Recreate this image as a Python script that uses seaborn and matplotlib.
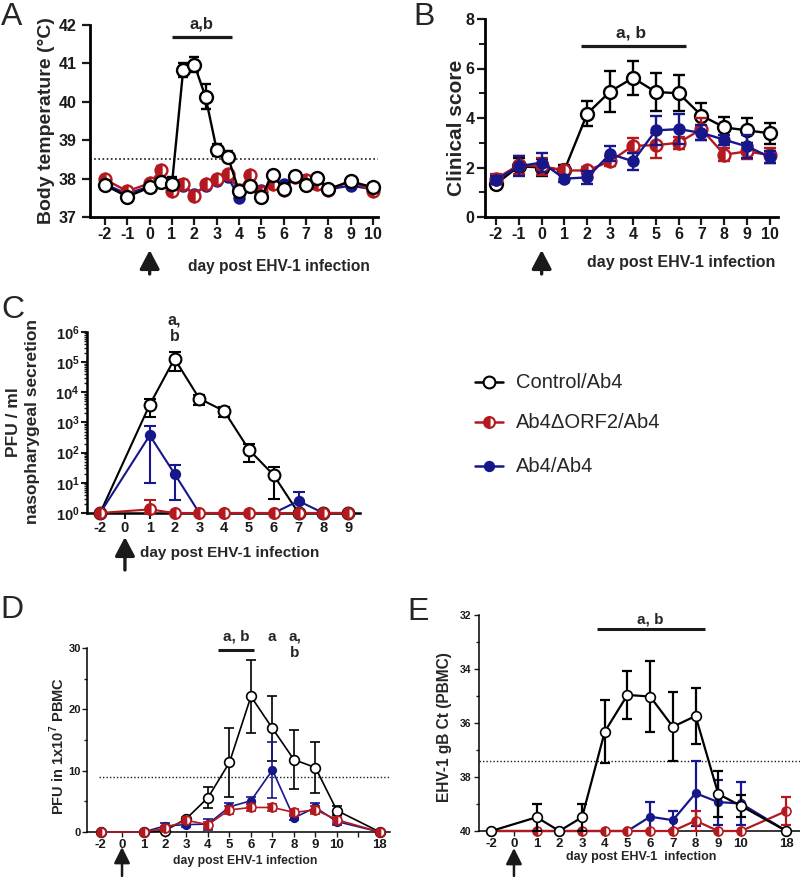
import numpy as np
import matplotlib
matplotlib.use("Agg")
import matplotlib.pyplot as plt
from matplotlib.lines import Line2D
from matplotlib.ticker import FixedLocator, LogLocator, NullFormatter
import seaborn as sns

sns.set_theme(style="ticks")
plt.rcParams['font.family'] = ['Liberation Sans', 'DejaVu Sans']
plt.rcParams['mathtext.fontset'] = 'custom'
plt.rcParams['mathtext.rm'] = 'Liberation Sans'
plt.rcParams['mathtext.bf'] = 'Liberation Sans:bold'
plt.rcParams['axes.edgecolor'] = 'black'
plt.rcParams['axes.unicode_minus'] = False

# ---------------- DATA ----------------
GROUPS = ["Control/Ab4", "Ab4\u0394ORF2/Ab4", "Ab4/Ab4"]

# Panel A: body temperature
A_DAYS = [-2, -1, 0, 0.5, 1, 1.5, 2, 2.5, 3, 3.5, 4, 4.5, 5, 5.5, 6, 6.5, 7, 7.5, 8, 9, 10]
A_CTRL = [37.83, 37.53, 37.77, 37.92, 37.87, 40.83, 40.97, 40.13, 38.75, 38.57, 37.67,
          37.80, 37.53, 38.10, 37.73, 38.08, 37.83, 38.02, 37.73, 37.93, 37.77]
A_CTRL_ERR = [0.05, 0.05, 0.05, 0.05, 0.17, 0.18, 0.2, 0.33, 0.15, 0.15, 0.05,
              0.05, 0.1, 0.05, 0.06, 0.1, 0.05, 0.05, 0.06, 0.06, 0.05]
A_RED = [37.98, 37.67, 37.88, 38.22, 37.67, 37.87, 37.55, 37.85, 38.00, 38.12, 37.70,
         38.10, 37.65, 37.85, 37.70, 38.05, 37.97, 37.85, 37.70, 37.95, 37.67]
A_RED_ERR = [0.05, 0.05, 0.05, 0.12, 0.05, 0.1, 0.05, 0.05, 0.05, 0.05, 0.05,
             0.05, 0.05, 0.05, 0.05, 0.05, 0.05, 0.05, 0.05, 0.05, 0.05]
A_BLUE = [37.85, 37.60, 37.80, 37.90, 37.75, 37.80, 37.60, 37.80, 37.95, 38.05, 37.50,
          37.80, 37.70, 37.85, 37.87, 38.05, 37.90, 37.88, 37.72, 37.82, 37.72]
A_BLUE_ERR = [0.05] * 21
A_THRESHOLD = 38.5

# Panel B: clinical score
B_DAYS = [-2, -1, 0, 1, 2, 3, 4, 5, 6, 7, 8, 9, 10]
B_CTRL = [1.33, 2.05, 2.0, 1.9, 4.18, 5.07, 5.62, 5.05, 5.0, 4.1, 3.62, 3.5, 3.38]
B_CTRL_ERR = [0.15, 0.35, 0.35, 0.2, 0.5, 0.83, 0.7, 0.77, 0.72, 0.52, 0.42, 0.5, 0.42]
B_RED = [1.55, 2.1, 2.05, 1.88, 1.88, 2.25, 2.88, 2.9, 3.0, 3.55, 2.52, 2.65, 2.5]
B_RED_ERR = [0.2, 0.35, 0.35, 0.15, 0.15, 0.2, 0.3, 0.5, 0.25, 0.45, 0.25, 0.3, 0.3]
B_BLUE = [1.5, 2.05, 2.2, 1.55, 1.6, 2.55, 2.25, 3.5, 3.55, 3.4, 3.12, 2.85, 2.42]
B_BLUE_ERR = [0.15, 0.4, 0.4, 0.15, 0.25, 0.3, 0.35, 0.6, 0.6, 0.3, 0.2, 0.45, 0.25]

# Panel C: PFU / ml nasopharyngeal secretion (value, lower, upper)
C_TICKS = ["-2", "0", "1", "2", "3", "4", "5", "6", "7", "8", "9"]
C_DAYS = ["-2", "1", "2", "3", "4", "5", "6", "7", "8", "9"]
C_CTRL = [1, 3900, 1.3e5, 6200, 2400, 126, 18, 1, 1, 1]
C_CTRL_LO = [1, 1500, 5e4, 3700, 1500, 50, 3, 1, 1, 1]
C_CTRL_HI = [1, 6000, 2.2e5, 8000, 3300, 200, 33, 1, 1, 1]
C_BLUE = [1, 375, 20, 1, 1, 1, 1, 2.5, 1, 1]
C_BLUE_LO = [1, 10, 2.8, 1, 1, 1, 1, 1, 1, 1]
C_BLUE_HI = [1, 750, 38, 1, 1, 1, 1, 5, 1, 1]
C_RED = [1, 1.32, 1, 1, 1, 1, 1, 1, 1, 1]
C_RED_LO = [1, 1, 1, 1, 1, 1, 1, 1, 1, 1]
C_RED_HI = [1, 2.6, 1, 1, 1, 1, 1, 1, 1, 1]

# Panels D/E share the day axis
DE_TICKS = ["-2", "0", "1", "2", "3", "4", "5", "6", "7", "8", "9", "10", "", "18"]
DE_DAYS = ["-2", "1", "2", "3", "4", "5", "6", "7", "8", "9", "10", "18"]

# Panel D: PFU in 1x10^7 PBMC
D_CTRL = [0, 0, 0.2, 2.2, 5.6, 11.35, 22.1, 16.9, 11.8, 10.5, 3.5, 0]
D_CTRL_ERR = [0, 0, 0, 0.3, 1.7, 5.6, 5.9, 5.3, 4.75, 4.1, 0.7, 0]
D_BLUE = [0, 0, 1.0, 1.2, 1.3, 4.1, 5.1, 10.1, 2.3, 4.0, 1.7, 0]
D_BLUE_ERR = [0, 0, 0.5, 0.4, 0.9, 0.7, 0.6, 4.5, 0.4, 0.8, 0.5, 0]
D_RED = [0, 0, 0.6, 1.9, 1.2, 3.6, 4.0, 4.0, 3.2, 3.6, 2.0, 0]
D_RED_ERR = [0, 0, 0.4, 0.5, 0.5, 0.6, 0.6, 0.6, 0.6, 0.7, 0.5, 0]
D_THRESHOLD = 9

# Panel E: EHV-1 gB Ct (PBMC)
E_CTRL = [40, 39.49, 40, 39.49, 36.32, 34.96, 35.02, 36.14, 35.74, 38.63, 39.07, 40]
E_CTRL_ERR = [0, 0.5, 0, 0.5, 1.17, 0.88, 1.33, 1.27, 1.04, 0.84, 0.4, 0]
E_BLUE = [40, 40, 40, 40, 40, 40, 39.47, 39.6, 38.6, 38.93, 38.98, 40]
E_BLUE_ERR = [0, 0, 0, 0, 0, 0, 0.53, 0.35, 1.2, 0.83, 0.8, 0]
E_RED = [40, 40, 40, 40, 40, 40, 40, 40, 39.62, 40, 40, 39.26]
E_RED_ERR = [0, 0, 0, 0, 0, 0, 0, 0, 0.37, 0, 0, 0.53]
E_THRESHOLD = 37.4

# ---------------- STYLE ----------------
BLACK = "#000000"
RED = "#B3191E"
BLUE = "#17178C"
W, H = 800, 877

fig = plt.figure(figsize=(8, 8.77), dpi=100)


def add_ax(l, t, r, b):
    ax = fig.add_axes([l / W, 1 - b / H, (r - l) / W, (b - t) / H])
    ax.set_facecolor("none")
    ax.grid(False)
    for s in ("top", "right"):
        ax.spines[s].set_visible(False)
    return ax, (l, t, r, b)


def style_for(group, ms, mew):
    if group == 0:
        return dict(color=BLACK, marker="o", markersize=ms, markerfacecolor="white",
                    markeredgecolor=BLACK, markeredgewidth=mew)
    if group == 1:
        return dict(color=RED, marker="o", markersize=ms * 0.92, markerfacecolor=RED,
                    markerfacecoloralt="white", fillstyle="left",
                    markeredgecolor=RED, markeredgewidth=mew)
    return dict(color=BLUE, marker="o", markersize=ms * 0.78, markerfacecolor=BLUE,
                markeredgecolor=BLUE, markeredgewidth=mew)


def series(ax, x, y, lo_err, hi_err, group, ms, mew, lw, cap, z):
    x = np.asarray(x, float)
    y = np.asarray(y, float)
    lo_err = np.asarray(lo_err, float)
    hi_err = np.asarray(hi_err, float)
    st = style_for(group, ms, mew)
    m = (lo_err > 0) | (hi_err > 0)
    if m.any():
        ax.errorbar(x[m], y[m], yerr=[lo_err[m], hi_err[m]], fmt="none", ecolor=st["color"],
                    elinewidth=lw, capsize=cap, capthick=lw, zorder=z)
    sns.lineplot(x=x, y=y, ax=ax, sort=False, errorbar=None, linewidth=lw,
                 clip_on=False, zorder=z + 0.5, **st)


def bold_ticks(ax):
    for lab in ax.get_xticklabels() + ax.get_yticklabels():
        lab.set_fontweight("bold")


def arrow(ax, box, x, ytip, ytail, lw=2.4, hw=0.5, hl=0.95):
    l, t, r, b = box
    h = b - t
    ax.annotate("", xy=(x, (b - ytip) / h), xycoords=("data", "axes fraction"),
                xytext=(x, (b - ytail) / h), textcoords=("data", "axes fraction"),
                arrowprops=dict(arrowstyle=f"-|>,head_width={hw},head_length={hl}",
                                lw=lw, color="k", shrinkA=0, shrinkB=0),
                annotation_clip=False)


def ftext(px, py, s, **kw):
    fig.text(px / W, 1 - py / H, s, **kw)


# ---------------- PANEL A ----------------
axA, boxA = add_ax(90, 25, 378, 217)
for g, (yy, ee) in [(2, (A_BLUE, A_BLUE_ERR)), (1, (A_RED, A_RED_ERR)), (0, (A_CTRL, A_CTRL_ERR))]:
    series(axA, A_DAYS, yy, ee, ee, g, 9.3, 1.7, 1.7, 3.5, 3 + (2 - g))
axA.axhline(A_THRESHOLD, ls=(0, (1, 1.5)), color="k", lw=1.2, zorder=1)
axA.set_xlim(-2.67, 10.22)
axA.set_ylim(37, 42)
axA.set_xticks(range(-2, 11))
axA.set_yticks(range(37, 43))
axA.tick_params(width=1.6, length=5.5, labelsize=11.5, pad=2, colors="k")
axA.tick_params(axis="y", pad=4)
for s in ("left", "bottom"):
    axA.spines[s].set_linewidth(2.0)
bold_ticks(axA)
axA.set_xlabel("")
axA.set_ylabel("")
axA.plot([1.0, 3.69], [41.7, 41.7], color="k", lw=2.3, clip_on=False, solid_capstyle="butt")
axA.text(2.3, 41.9, "a,b", ha="center", va="baseline", fontsize=12, fontweight="bold")
arrow(axA, boxA, 0, 250, 274)
ftext(188, 267, "day post EHV-1 infection", ha="left", va="center", fontsize=11.2, fontweight="bold")
ftext(47, 121, "Body temperature (\u00b0C)", rotation=90, ha="center", va="center",
      fontsize=14, fontweight="bold")
ftext(1, 25, "A", fontsize=23, ha="left", va="baseline")

# ---------------- PANEL B ----------------
axB, boxB = add_ax(485, 19, 778, 217)
for g, (yy, ee) in [(0, (B_CTRL, B_CTRL_ERR)), (1, (B_RED, B_RED_ERR)), (2, (B_BLUE, B_BLUE_ERR))]:
    series(axB, B_DAYS, yy, ee, ee, g, 9.3, 1.7, 1.7, 4.3, 3 + g)
axB.set_xlim(-2.48, 10.35)
axB.set_ylim(0, 8)
axB.set_xticks(range(-2, 11))
axB.set_yticks([0, 2, 4, 6, 8])
axB.yaxis.set_minor_locator(FixedLocator([1, 3, 5, 7]))
axB.tick_params(width=1.6, length=5.5, labelsize=11.5, pad=2, colors="k")
axB.tick_params(axis="y", which="minor", width=1.4, length=4, colors="k")
for s in ("left", "bottom"):
    axB.spines[s].set_linewidth(2.0)
bold_ticks(axB)
axB.set_xlabel("")
axB.set_ylabel("")
axB.plot([1.72, 6.32], [6.91, 6.91], color="k", lw=2.3, clip_on=False, solid_capstyle="butt")
axB.text(3.9, 7.27, "a, b", ha="center", va="baseline", fontsize=12.5, fontweight="bold")
arrow(axB, boxB, 0, 250, 274)
ftext(587, 263, "day post EHV-1 infection", ha="left", va="center", fontsize=11.5, fontweight="bold")
ftext(457, 128, "Clinical score", rotation=90, ha="center", va="center",
      fontsize=15, fontweight="bold")
ftext(413, 25, "B", fontsize=23, ha="left", va="baseline")

# ---------------- PANEL C ----------------
axC, boxC = add_ax(87, 332, 360, 513)
axC.set_yscale("log")
cpos = {lab: i - 1 for i, lab in enumerate(C_TICKS)}
cx = [cpos[d] for d in C_DAYS]
for g, (yy, lo, hi) in [(0, (C_CTRL, C_CTRL_LO, C_CTRL_HI)),
                        (2, (C_BLUE, C_BLUE_LO, C_BLUE_HI)),
                        (1, (C_RED, C_RED_LO, C_RED_HI))]:
    yy = np.asarray(yy, float)
    series(axC, cx, yy, yy - np.asarray(lo, float), np.asarray(hi, float) - yy,
           g, 8.5, 1.5, 1.5, 4, 3 + {0: 0, 2: 1, 1: 2}[g])
axC.set_xlim(-1.53, 9.48)
axC.set_ylim(1, 1e6)
axC.set_xticks([cpos[l] for l in C_TICKS])
axC.set_xticklabels(C_TICKS)
axC.set_yticks([10.0 ** k for k in range(7)])
axC.set_yticklabels([r"$\mathbf{10^{%d}}$" % k for k in range(7)])
axC.yaxis.set_minor_locator(LogLocator(base=10, subs=np.arange(2, 10), numticks=20))
axC.yaxis.set_minor_formatter(NullFormatter())
axC.tick_params(width=1.5, length=4.5, labelsize=10.5, pad=1.5, colors="k")
axC.tick_params(axis="y", labelsize=10.5, pad=1)
axC.tick_params(axis="y", which="minor", width=1.0, length=2.5, colors="k")
for s in ("left", "bottom"):
    axC.spines[s].set_linewidth(1.8)
bold_ticks(axC)
axC.set_xlabel("")
axC.set_ylabel("")
hC = boxC[3] - boxC[1]
axC.text(cpos["2"], (513 - 325) / hC, "a,", transform=axC.get_xaxis_transform(),
         ha="center", va="baseline", fontsize=11.5, fontweight="bold")
axC.text(cpos["2"], (513 - 341) / hC, "b", transform=axC.get_xaxis_transform(),
         ha="center", va="baseline", fontsize=11.5, fontweight="bold")
arrow(axC, boxC, 0, 537, 570)
ftext(140, 553, "day post EHV-1 infection", ha="left", va="center", fontsize=11, fontweight="bold")
ftext(13, 422, "PFU / ml", rotation=90, ha="center", va="center", fontsize=12.5, fontweight="bold")
ftext(33, 422, "nasopharygeal secretion", rotation=90, ha="center", va="center",
      fontsize=12.5, fontweight="bold")
ftext(1, 318, "C", fontsize=23, ha="left", va="baseline")

# ---------------- LEGEND ----------------
for g, py in [(0, 382), (1, 422), (2, 466)]:
    st = style_for(g, 8.5, 1.5)
    yf = 1 - py / H
    fig.add_artist(Line2D([475 / W, 503 / W], [yf, yf], transform=fig.transFigure,
                          color=st["color"], lw=1.8))
    mk = {k: v for k, v in st.items() if k != "color"}
    fig.add_artist(Line2D([489 / W], [yf], transform=fig.transFigure, linestyle="none",
                          color=st["color"], **mk))
    ftext(516, py, GROUPS[g], ha="left", va="center", fontsize=14.5)

# ---------------- PANEL D ----------------
axD, boxD = add_ax(87, 648, 390, 832)
dpos = {lab: i - 1 for i, lab in enumerate(DE_TICKS)}
dx = [dpos[d] for d in DE_DAYS]
for g, (yy, ee) in [(0, (D_CTRL, D_CTRL_ERR)), (2, (D_BLUE, D_BLUE_ERR)), (1, (D_RED, D_RED_ERR))]:
    series(axD, dx, yy, ee, ee, g, 7, 1.2, 1.2, 3.5, 3 + {0: 0, 2: 1, 1: 2}[g])
axD.axhline(D_THRESHOLD, xmin=0.04, ls=(0, (1, 1.5)), color="k", lw=1.0, zorder=1)
axD.set_xlim(-1.63, 12.47)
axD.set_ylim(0, 30)
axD.set_xticks(list(range(-1, 13)))
axD.set_xticklabels(DE_TICKS)
axD.set_yticks([0, 10, 20, 30])
axD.yaxis.set_minor_locator(FixedLocator([5, 15, 25]))
axD.tick_params(width=1.0, length=3.5, labelsize=9.5, pad=1.5, colors="k")
axD.tick_params(axis="y", labelsize=8, pad=1)
axD.tick_params(axis="y", which="minor", width=1.0, length=2.5, colors="k")
for s in ("left", "bottom"):
    axD.spines[s].set_linewidth(1.1)
bold_ticks(axD)
axD.set_xlabel("")
axD.set_ylabel("")
axD.plot([4.47, 6.14], [29.6, 29.6], color="k", lw=2.2, clip_on=False, solid_capstyle="butt")
axD.text(5.3, 31.2, "a, b", ha="center", va="baseline", fontsize=11, fontweight="bold")
axD.text(6.96, 31.2, "a", ha="center", va="baseline", fontsize=11, fontweight="bold")
axD.text(8.05, 31.2, "a,", ha="center", va="baseline", fontsize=11, fontweight="bold")
axD.text(8.05, 28.5, "b", ha="center", va="baseline", fontsize=11, fontweight="bold")
arrow(axD, boxD, 0, 847, 876, lw=1.8, hw=0.4, hl=0.8)
ftext(173, 861, "day post EHV-1 infection", ha="left", va="center", fontsize=8.8, fontweight="bold")
ftext(57, 746, r"PFU in 1x10$^{\mathbf{7}}$ PBMC", rotation=90, ha="center", va="center",
      fontsize=10.5, fontweight="bold")
ftext(0, 618, "D", fontsize=23, ha="left", va="baseline")

# ---------------- PANEL E ----------------
axE, boxE = add_ax(479, 615, 800, 831)
for g, (yy, ee) in [(2, (E_BLUE, E_BLUE_ERR)), (1, (E_RED, E_RED_ERR)), (0, (E_CTRL, E_CTRL_ERR))]:
    series(axE, dx, yy, ee, ee, g, 7, 1.2, 1.6, 3.5, 3 + (2 - g))
axE.axhline(E_THRESHOLD, ls=(0, (1, 1.5)), color="k", lw=1.0, zorder=1)
axE.set_xlim(-1.54, 12.6)
axE.set_ylim(40, 32)
etick = [dpos[l] for l in DE_TICKS if l != ""]
axE.set_xticks(etick)
axE.set_xticklabels([l for l in DE_TICKS if l != ""])
axE.set_yticks([32, 34, 36, 38, 40])
axE.yaxis.set_minor_locator(FixedLocator([33, 35, 37, 39]))
axE.tick_params(width=1.0, length=3.5, labelsize=9.5, pad=1.5, colors="k")
axE.tick_params(axis="y", labelsize=7.5, pad=2)
axE.tick_params(axis="y", which="minor", width=1.0, length=2.5, colors="k")
for s in ("left", "bottom"):
    axE.spines[s].set_linewidth(1.1)
bold_ticks(axE)
axE.set_xlabel("")
axE.set_ylabel("")
axE.plot([3.66, 8.41], [32.52, 32.52], color="k", lw=2.2, clip_on=False, solid_capstyle="butt")
axE.text(6.02, 32.33, "a, b", ha="center", va="baseline", fontsize=11, fontweight="bold")
arrow(axE, boxE, 0, 848, 876, lw=1.8, hw=0.4, hl=0.8)
ftext(566, 857, "day post EHV-1  infection", ha="left", va="center", fontsize=9, fontweight="bold")
ftext(445, 727, "EHV-1 gB Ct (PBMC)", rotation=90, ha="center", va="center",
      fontsize=11.2, fontweight="bold")
ftext(407, 620, "E", fontsize=23, ha="left", va="baseline")

fig.savefig("out.png", dpi=100)
